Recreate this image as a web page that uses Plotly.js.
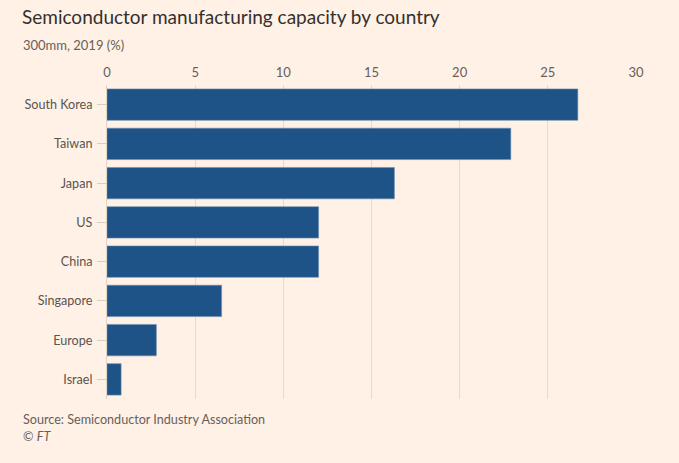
<!DOCTYPE html>
<html>
<head>
<meta charset="utf-8">
<script src="https://cdn.plot.ly/plotly-3.0.1.min.js"></script>
<style>
html,body{margin:0;padding:0;background:#FFF1E5;}
#chart{width:679px;height:463px;}
</style>
</head>
<body>
<div id="chart"></div>
<script>
const countries = ["South Korea", "Taiwan", "Japan", "US", "China", "Singapore", "Europe", "Israel"];
const capacity = [26.7, 22.9, 16.3, 12.0, 12.0, 6.5, 2.8, 0.8];
const xTicks = [0, 5, 10, 15, 20, 25, 30];

const trace = {
  type: "bar",
  orientation: "h",
  x: capacity,
  y: countries,
  marker: {color: "#1e5387", line: {color: "#6d8fb3", width: 0.6}},
  hoverinfo: "x+y"
};

const layout = {
  width: 679, height: 463,
  paper_bgcolor: "#FFF1E5",
  plot_bgcolor: "#FFF1E5",
  margin: {l: 107, r: 43, t: 85, b: 64},
  bargap: 0.2,
  showlegend: false,
  font: {family: "Lato, 'Open Sans', sans-serif", color: "#66605c", size: 12},
  title: {
    text: "Semiconductor manufacturing capacity by country",
    x: 22/679, y: 1 - 17/463, xref: "container", yref: "container",
    xanchor: "left", yanchor: "middle",
    font: {family: "Lato, 'Open Sans', sans-serif", size: 19, color: "#33302e"}
  },
  xaxis: {
    side: "top",
    range: [0, 30],
    tickvals: xTicks,
    ticktext: xTicks.map(String),
    showgrid: true,
    gridcolor: "#e6d9ce",
    gridwidth: 1,
    zeroline: false,
    showline: false,
    ticks: "",
    ticklen: 0,
    ticklabelstandoff: 4,
    tickfont: {size: 13, color: "#66605c"},
    fixedrange: true
  },
  yaxis: {
    autorange: "reversed",
    showline: true,
    linecolor: "#e0d3c8",
    linewidth: 1,
    ticks: "outside",
    ticklen: 9,
    tickcolor: "#d9ccc1",
    tickwidth: 1,
    ticklabelstandoff: 2,
    showgrid: false,
    tickfont: {size: 12.6, color: "#5a5450"},
    fixedrange: true
  },
  annotations: [
    {text: "300mm, 2019 (%)", xref: "paper", yref: "paper",
     x: -86/529, y: 1 + (85-45)/314, xanchor: "left", yanchor: "middle", showarrow: false,
     font: {size: 13, color: "#66605c"}},
    {text: "Source: Semiconductor Industry Association", xref: "paper", yref: "paper",
     x: -86/529, y: -(419-399)/314, xanchor: "left", yanchor: "middle", showarrow: false,
     font: {size: 12.6, color: "#66605c"}},
    {text: "© <i>FT</i>", xref: "paper", yref: "paper",
     x: -86/529, y: -(436-399)/314, xanchor: "left", yanchor: "middle", showarrow: false,
     font: {size: 12.6, color: "#66605c"}}
  ]
};

Plotly.newPlot("chart", [trace], layout, {displayModeBar: false, responsive: false});
</script>
</body>
</html>
